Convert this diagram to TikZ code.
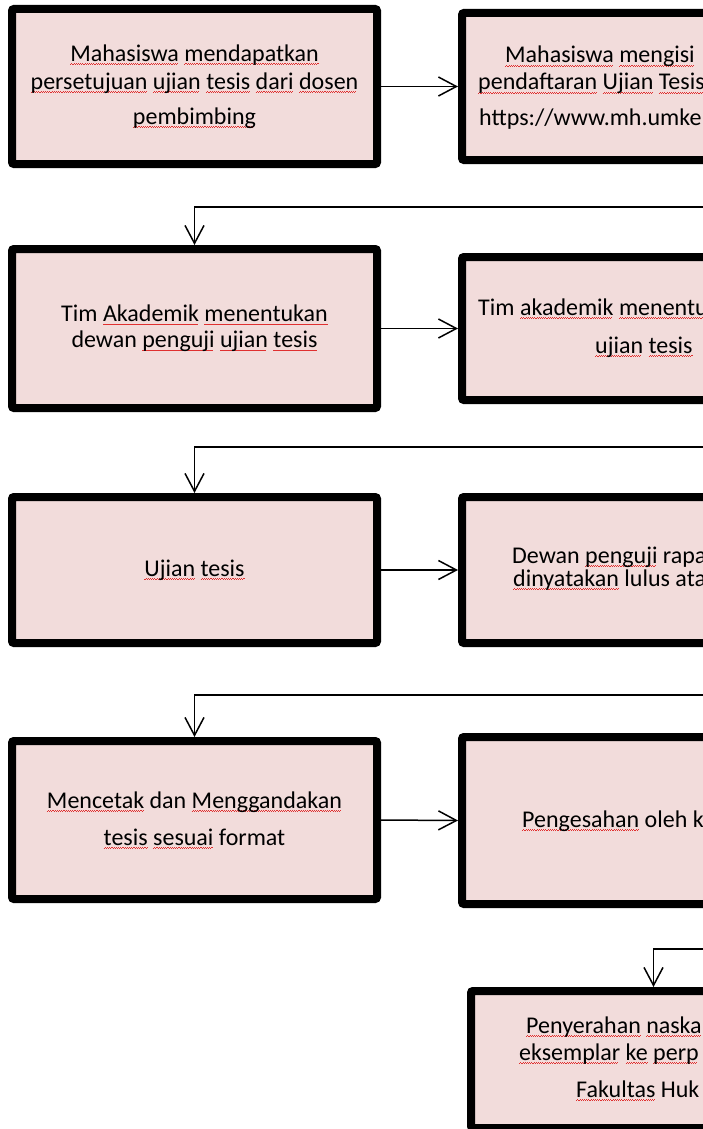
\documentclass[tikz,border=0pt]{standalone}
\usepackage{fontspec}
\setmainfont{Carlito}
\usetikzlibrary{arrows.meta,shadows}
\definecolor{boxpink}{HTML}{F2DCDB}
\definecolor{squig}{HTML}{E03030}
\newcommand\sq[1]{\setbox0=\hbox{#1}\rlap{\color{squig}\lower3.2pt\hbox to \wd0{\leaders\hbox{\rule{1.1pt}{0.6pt}\raise0.7pt\hbox{\rule{1.1pt}{0.6pt}}}\hfill}}\box0\relax}
\tikzset{
  flowbox/.style={draw=black, line width=8pt, fill=boxpink, rounded corners=2pt,
    inner sep=0pt, align=center,
    drop shadow={shadow xshift=2pt, shadow yshift=-3pt, opacity=0.3, fill=black},
    font=\fontsize{24}{28}\selectfont},
  boxtext/.style={anchor=base west, inner sep=0pt, font=\fontsize{24}{28}\selectfont},
  flowarrow/.style={line width=1.5pt, -{Straight Barb[length=18pt, width=19pt, line width=1.5pt]}}
}
\begin{document}
\begin{tikzpicture}[x=1pt, y=-1pt]
\useasboundingbox (0,0) rectangle (703,1129);
\fill[white] (0,0) rectangle (703,1129);
\clip (0,0) rectangle (703,1129);

% row 1
\node[flowbox, minimum width=365pt, minimum height=155pt] (L1) at (194.5,86.5)
  {\sq{Mahasiswa} \sq{mendapatkan}\\ \sq{persetujuan} \sq{ujian} \sq{tesis} \sq{dari} \sq{dosen}\\[7pt] \sq{pembimbing}};
\node[flowbox, minimum width=365pt, minimum height=147pt] (R1) at (644.5,86.5) {};
\node[boxtext] (R1a) at (505,63) {\sq{Mahasiswa} \sq{mengisi}};
\node[boxtext] (R1b) at (478,90) {\sq{pendaftaran} \sq{Ujian} \sq{Tesis}};
\node[boxtext] (R1c) at (479,125) {https://www.mh.umke};
\draw[flowarrow] (L1.east) -- (R1.west);

% row 2
\coordinate (c2) at (720,207);
\node[flowbox, minimum width=365pt, minimum height=159pt, font=\fontsize{24}{26}\selectfont] (L2) at (194.5,328.5)
  {Tim \sq{Akademik} \sq{menentukan}\\ dewan \sq{penguji} \sq{ujian} \sq{tesis}};
\node[flowbox, minimum width=365pt, minimum height=143pt] (R2) at (644.5,328.5) {};
\node[boxtext] (R2a) at (478,315) {Tim \sq{akademik} \sq{menentu}};
\node[boxtext] (R2b) at (595,353) {\sq{ujian} \sq{tesis}};
\draw[flowarrow] (c2) -| (L2.north);
\draw[flowarrow] (L2.east) -- (R2.west);

% row 3
\coordinate (c3) at (720,447);
\node[flowbox, minimum width=365pt, minimum height=146pt] (L3) at (194.5,570)
  {\sq{Ujian} \sq{tesis}};
\node[flowbox, minimum width=365pt, minimum height=146pt] (R3) at (644.5,570) {};
\node[boxtext] (R3a) at (512,563) {Dewan \sq{penguji} rapa};
\node[boxtext] (R3b) at (513,586) {\sq{dinyatakan} lulus ata};
\draw[flowarrow] (c3) -| (L3.north);
\draw[flowarrow] (L3.east) -- (R3.west);

% row 4
\coordinate (c4) at (720,695);
\node[flowbox, minimum width=365pt, minimum height=158pt] (L4) at (194.5,820)
  {\sq{Mencetak} dan \sq{Menggandakan}\\[9pt] \sq{tesis} \sq{sesuai} format};
\node[flowbox, minimum width=365pt, minimum height=167pt] (R4) at (644.5,820.5) {};
\node[boxtext] (R4a) at (522,827) {\sq{Pengesahan} oleh k};
\draw[flowarrow] (c4) -| (L4.north);
\draw[flowarrow] (L4.east) -- (R4.west);

% row 5
\coordinate (c5) at (720,949);
\node[flowbox, minimum width=365pt, minimum height=137pt] (R5) at (653.5,1059.5) {};
\node[boxtext] (R5a) at (526,1033) {\sq{Penyerahan} \sq{naska}};
\node[boxtext] (R5b) at (519,1060) {\sq{eksemplar} \sq{ke} \sq{perp}};
\node[boxtext] (R5c) at (576,1097) {\sq{Fakultas} Huk};
\draw[flowarrow] (c5) -| (R5.north);
\end{tikzpicture}
\end{document}
